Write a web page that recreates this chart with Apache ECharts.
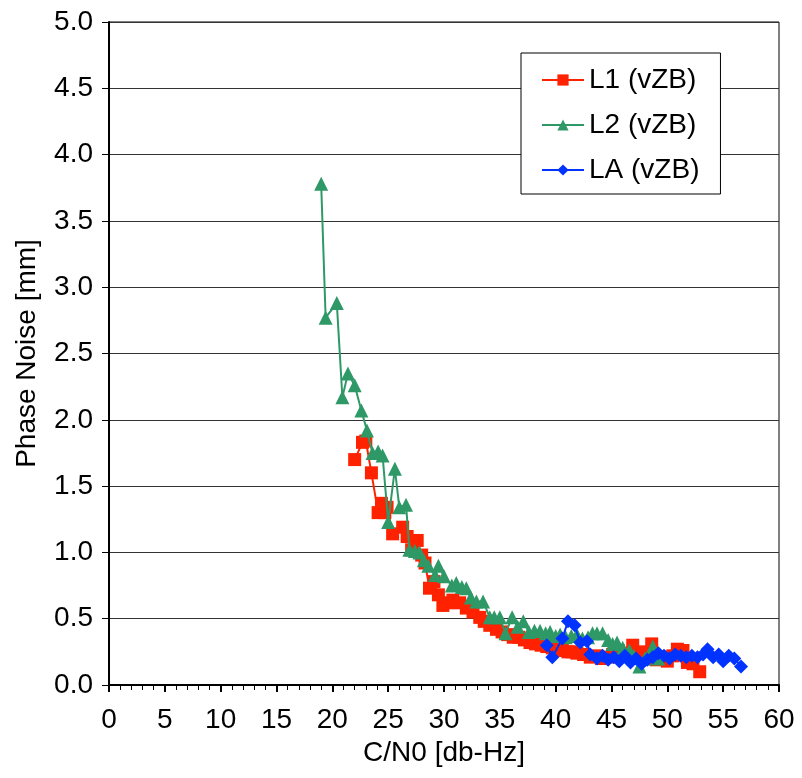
<!DOCTYPE html>
<html><head><meta charset="utf-8">
<script src="https://cdn.jsdelivr.net/npm/echarts@6/dist/echarts.min.js"></script>
<style>html,body{margin:0;padding:0;background:#fff}#c{width:802px;height:778px}</style>
</head><body><div id="c"></div>
<script>
const L1 = [[22.0,1.70],[22.7,1.83],[23.0,1.84],[23.5,1.60],[24.1,1.30],[24.4,1.37],[24.7,1.30],[24.9,1.34],[25.4,1.14],[26.3,1.19],[26.7,1.12],[27.1,1.02],[27.6,1.09],[28.0,0.98],[28.3,0.92],[28.7,0.73],[29.1,0.78],[29.5,0.68],[29.9,0.60],[30.3,0.62],[30.8,0.64],[31.4,0.62],[32.0,0.58],[32.6,0.55],[33.2,0.51],[33.6,0.48],[34.1,0.45],[34.7,0.42],[35.2,0.40],[35.7,0.38],[36.2,0.36],[36.7,0.36],[37.2,0.34],[37.7,0.32],[38.2,0.31],[38.7,0.30],[39.2,0.29],[39.7,0.28],[40.1,0.27],[40.6,0.26],[41.1,0.25],[41.5,0.25],[41.9,0.24],[42.5,0.23],[43.1,0.21],[43.6,0.22],[44.1,0.20],[44.6,0.21],[45.1,0.23],[45.6,0.26],[46.1,0.24],[46.5,0.22],[46.9,0.30],[47.4,0.21],[47.9,0.25],[48.6,0.31],[49.0,0.19],[49.5,0.21],[50.0,0.18],[50.5,0.22],[50.9,0.27],[51.4,0.26],[51.8,0.17],[52.3,0.16],[52.9,0.10]];
const L2 = [[19.0,3.78],[19.4,2.77],[20.4,2.88],[20.9,2.17],[21.4,2.35],[22.0,2.26],[22.6,2.07],[23.1,1.92],[23.6,1.75],[24.1,1.76],[24.5,1.73],[25.0,1.23],[25.6,1.63],[26.0,1.34],[26.6,1.36],[26.9,1.02],[27.4,1.01],[27.8,1.00],[28.2,0.94],[28.6,0.90],[29.2,0.83],[29.5,0.90],[30.0,0.82],[30.7,0.75],[31.1,0.77],[31.6,0.74],[32.0,0.73],[32.4,0.66],[32.9,0.63],[33.5,0.63],[34.1,0.51],[34.5,0.51],[35.0,0.51],[35.5,0.39],[36.1,0.51],[36.6,0.44],[37.1,0.48],[37.6,0.40],[38.1,0.41],[38.6,0.41],[39.1,0.39],[39.5,0.40],[40.0,0.37],[40.4,0.38],[40.9,0.36],[41.4,0.37],[41.9,0.38],[42.4,0.35],[42.9,0.36],[43.3,0.39],[43.7,0.39],[44.2,0.39],[44.7,0.34],[45.1,0.31],[45.5,0.32],[46.0,0.28],[46.6,0.26],[47.0,0.22],[47.5,0.14],[48.0,0.20],[48.7,0.29],[49.2,0.20]];
const LA = [[39.2,0.30],[39.7,0.21],[40.6,0.35],[41.1,0.48],[41.7,0.45],[42.2,0.32],[42.8,0.33],[43.1,0.23],[43.7,0.20],[44.2,0.22],[44.7,0.19],[45.2,0.21],[45.7,0.18],[46.2,0.22],[46.7,0.17],[47.2,0.20],[47.7,0.16],[48.2,0.19],[48.7,0.21],[49.2,0.24],[49.7,0.22],[50.2,0.20],[50.7,0.23],[51.2,0.22],[51.7,0.21],[52.2,0.22],[52.7,0.21],[53.2,0.23],[53.6,0.27],[54.1,0.21],[54.6,0.23],[55.0,0.18],[55.5,0.22],[56.0,0.20],[56.6,0.14]];
const seriesNames = ['L1 (vZB)','L2 (vZB)','LA (vZB)'];
const colors = ['#FF2200','#2E9966','#0033FF'];
const symbols = ['rect','triangle','diamond'];
const datasets = [L1, L2, LA];
const FONT = 'Liberation Sans, Arial, sans-serif';

const chart = echarts.init(document.getElementById('c'), null, {renderer:'canvas'});
chart.setOption({
  animation:false,
  backgroundColor:'#fff',
  grid:{left:109, top:22, right:23, bottom:93, show:true, borderColor:'#000', borderWidth:1, containLabel:false, outerBoundsMode:'none'},
  legend:{
    orient:'vertical', left:521, top:53,
    borderColor:'#000', borderWidth:1, backgroundColor:'#fff',
    padding:[13,21,10,20], itemWidth:42, itemHeight:14, itemGap:17,
    textStyle:{fontFamily:FONT, fontSize:28, color:'#000'},
    data:seriesNames
  },
  xAxis:{
    type:'value', min:0, max:60, interval:5,
    name:'C/N0 [db-Hz]', nameLocation:'middle', nameGap:53,
    nameTextStyle:{fontFamily:FONT, fontSize:28, color:'#000'},
    axisLine:{lineStyle:{color:'#000', width:2}},
    axisTick:{show:true, inside:false, length:7, lineStyle:{color:'#000', width:2}},
    minorTick:{show:true, splitNumber:5, length:5, lineStyle:{color:'#000', width:1}},
    axisLabel:{fontFamily:FONT, fontSize:28, color:'#000', margin:21},
    splitLine:{show:false}
  },
  yAxis:{
    type:'value', min:0, max:5, interval:0.5,
    name:'Phase Noise [mm]', nameLocation:'middle', nameGap:68,
    nameTextStyle:{fontFamily:FONT, fontSize:28, color:'#000'},
    axisLine:{lineStyle:{color:'#000', width:2}},
    axisTick:{show:true, inside:false, length:7, lineStyle:{color:'#000', width:1}},
    axisLabel:{fontFamily:FONT, fontSize:28, color:'#000', margin:16, formatter:v=>v.toFixed(1)},
    splitLine:{show:true, lineStyle:{color:'#333', width:1}}
  },
  series: datasets.map((d,i)=>({
    name:seriesNames[i], type:'line', data:d,
    symbol:symbols[i], symbolSize: i===0?13:14,
    itemStyle:{color:colors[i]},
    lineStyle:{color:colors[i], width:2},
    z: 2+i
  }))
});
</script></body></html>
